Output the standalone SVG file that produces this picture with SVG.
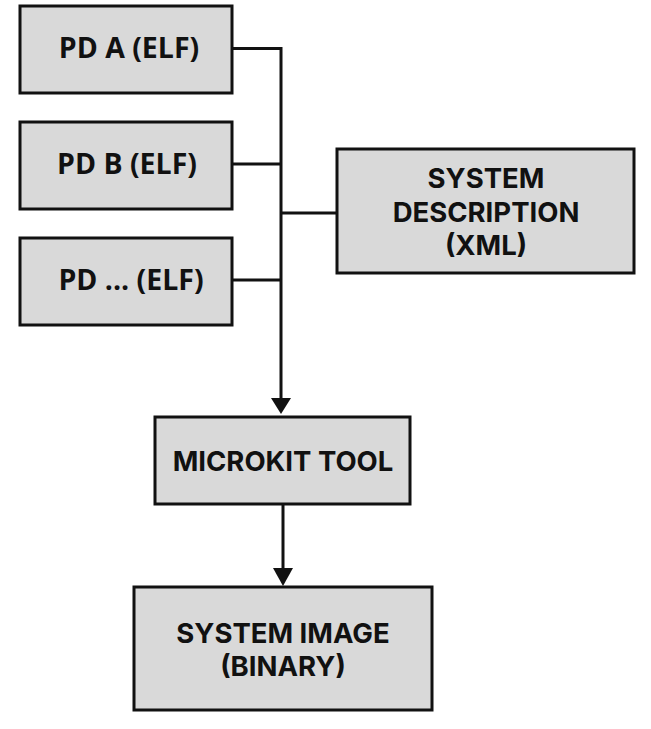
<svg xmlns="http://www.w3.org/2000/svg" width="651" height="729" viewBox="0 0 651 729">
<style>
.box{fill:#d9d9d9;stroke:#111;stroke-width:3}
.t{font-family:Inter,"Liberation Sans",sans-serif;font-weight:700;font-size:27.5px;fill:#111;text-anchor:middle;dominant-baseline:central}
.p{font-family:"Open Sans","Noto Sans",sans-serif;font-weight:700;font-size:28.5px;fill:#111;text-anchor:middle;dominant-baseline:central}
.c{fill:none;stroke:#111;stroke-width:3}
</style>
<rect width="651" height="729" fill="#fff"/>
<g id="connectors">
<path class="c" d="M232,48.5 H281 M232,164 H281 M232,280 H281 M281,213 H337"/>
<path class="c" d="M281,47 V402"/>
<path d="M271,398 L291,398 L281,414 Z" fill="#111"/>
<path class="c" d="M283,504 V572"/>
<path d="M273,568 L293,568 L283,586 Z" fill="#111"/>
</g>
<g id="pd-a"><rect class="box" x="20" y="6" width="212" height="87"/><text class="p" x="129" y="47">PD A (ELF)</text></g>
<g id="pd-b"><rect class="box" x="20" y="122" width="212" height="87"/><text class="p" x="127" y="163">PD B (ELF)</text></g>
<g id="pd-more"><rect class="box" x="20" y="238" width="212" height="87"/><text class="p" x="131" y="279">PD ... (ELF)</text></g>
<g id="system-description"><rect class="box" x="337" y="149" width="297" height="124"/>
<text class="t" x="486" y="178">SYSTEM</text><text class="t" x="486" y="212">DESCRIPTION</text><text class="t" x="486" y="245">(XML)</text></g>
<g id="microkit-tool"><rect class="box" x="155" y="417" width="255" height="87"/><text class="t" x="283" y="461">MICROKIT TOOL</text></g>
<g id="system-image"><rect class="box" x="134" y="587" width="298" height="123"/>
<text class="t" x="283" y="633">SYSTEM IMAGE</text><text class="t" x="283" y="666">(BINARY)</text></g>
</svg>
